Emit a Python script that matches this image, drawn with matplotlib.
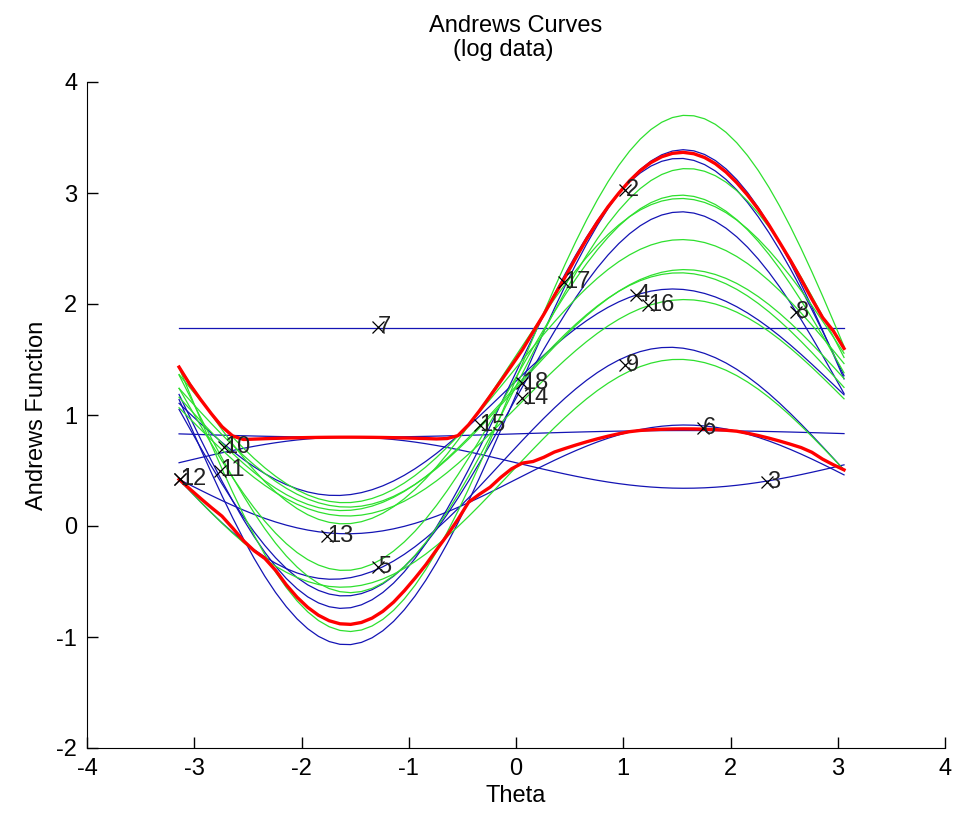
import numpy as np
import matplotlib.pyplot as plt

plt.rcParams['font.family'] = ['Liberation Sans', 'DejaVu Sans']
plt.rcParams['axes.unicode_minus'] = False

# Andrews curve coefficients per observation: f(t) = offset + sin_coef*sin(t) + cos_coef*cos(t)
offset = [1.78, 0.83, 0.57, 0.42, 1.16, 1.285, 1.10, 1.205, 0.565,
          0.475, 1.375, 1.31, 1.29, 1.485, 1.395, 1.24, 1.21, 1.065]
sin_coef = [0.00, 0.03, -0.23, 0.49, 2.23, 2.025, 1.73, 0.925, 1.035,
            1.025, 2.325, 1.91, 1.69, 1.465, 1.185, 1.07, 1.07, 0.975]
cos_coef = [0.00, 0.00, 0.00, 0.00, 0.02, 0.10, 0.05, 0.10, 0.145,
            0.055, -0.05, -0.05, 0.05, 0.05, 0.03, 0.00, 0.05, 0.00]
group = ['b'] * 9 + ['g'] * 9

# observation labels as they sit in the picture
label_text = ['1', '2', '3', '4', '5', '6', '7', '8', '9', '10', '11', '12',
              '13', '14', '15', '16', '17', '18']
label_theta = [-3.13, 1.02, 2.34, 1.12, -1.29, 1.74, -1.29, 2.61, 1.02, -2.72,
               -2.76, -3.13, -1.76, 0.06, -0.34, 1.23, 0.45, 0.06]
label_value = [0.42, 3.03, 0.40, 2.08, -0.37, 0.88, 1.79, 1.93, 1.45, 0.71,
               0.50, 0.42, -0.09, 1.15, 0.91, 1.99, 2.20, 1.29]

colors = {'b': '#1414b4', 'g': '#2ee02e'}

theta = np.arange(-np.pi, np.pi, 0.1)
curves = np.array([a + b * np.sin(theta) + c * np.cos(theta)
                   for a, b, c in zip(offset, sin_coef, cos_coef)])
q_low = np.quantile(curves, 0.1, axis=0, method='hazen')
q_high = np.quantile(curves, 0.9, axis=0, method='hazen')

fig = plt.figure(figsize=(9.57, 8.24), dpi=100)
ax = fig.add_axes([87 / 957, 76 / 824, 858 / 957, 666 / 824])

for y, g in zip(curves, group):
    ax.plot(theta, y, color=colors[g], lw=0.9)

ax.plot(theta, q_high, color='#ff0000', lw=2.4)
ax.plot(theta, q_low, color='#ff0000', lw=2.4)

ax.plot(label_theta, label_value, 'kx', ms=8, mew=0.9)
for t, v, s in zip(label_theta, label_value, label_text):
    ax.text(t, v, s, fontsize=17, ha='left', va='center', color='#222222')

ax.set_xlim(-4, 4)
ax.set_ylim(-2, 4)
ax.set_xticks(range(-4, 5))
ax.set_yticks(range(-2, 5))
ax.spines['top'].set_visible(False)
ax.spines['right'].set_visible(False)
ax.tick_params(direction='in', length=8, width=1, labelsize=17, pad=7)
ax.set_xlabel('Theta', fontsize=17, labelpad=4)
ax.set_ylabel('Andrews Function', fontsize=17, labelpad=6)

fig.text(516 / 957, 1 - 32 / 824, 'Andrews Curves', fontsize=17, ha='center', va='baseline')
fig.text(503 / 957, 1 - 56 / 824, '(log data)', fontsize=17, ha='center', va='baseline')

fig.savefig('out.png', dpi=100)
